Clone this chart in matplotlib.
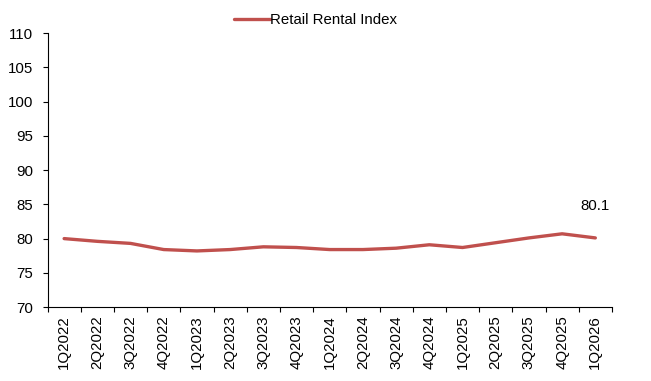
import matplotlib
matplotlib.use("Agg")
import matplotlib.pyplot as plt

plt.rcParams['font.family'] = ['Liberation Sans', 'DejaVu Sans']

quarters = ["1Q2022", "2Q2022", "3Q2022", "4Q2022", "1Q2023", "2Q2023", "3Q2023", "4Q2023",
            "1Q2024", "2Q2024", "3Q2024", "4Q2024", "1Q2025", "2Q2025", "3Q2025", "4Q2025", "1Q2026"]
index_values = [80.0, 79.6, 79.3, 78.4, 78.2, 78.4, 78.8, 78.7,
                78.4, 78.4, 78.6, 79.1, 78.7, 79.4, 80.1, 80.7, 80.1]
series_name = "Retail Rental Index"
y_ticks = [70, 75, 80, 85, 90, 95, 100, 105, 110]

fig = plt.figure(figsize=(6.51, 3.81), dpi=100)
ax = fig.add_axes([0.073, 0.194, 0.867, 0.719])

x = list(range(len(quarters)))
ax.plot(x, index_values, color='#C0504D', linewidth=2.4, label=series_name,
        solid_capstyle='round', solid_joinstyle='round')

ax.set_xlim(-0.5, len(quarters) - 0.5)
ax.set_ylim(70, 110)
ax.set_yticks(y_ticks)
ax.tick_params(axis='y', labelsize=10.8, length=3.5, width=0.8, direction='out', pad=7)

ax.set_xticks(x)
ax.set_xticklabels(quarters, rotation=90, fontsize=10.8)
ax.tick_params(axis='x', length=0, pad=6)
ax.set_xticks([i - 0.5 for i in range(len(quarters) + 1)], minor=True)
ax.tick_params(axis='x', which='minor', length=3.5, width=0.8, direction='out')

for s in ['top', 'right']:
    ax.spines[s].set_visible(False)
for s in ['left', 'bottom']:
    ax.spines[s].set_linewidth(0.8)

ax.annotate(f"{index_values[-1]:.1f}", xy=(x[-1], index_values[-1]), xytext=(0, 23),
            textcoords='offset points', ha='center', va='center', fontsize=10.8)

fig.legend(loc='upper center', bbox_to_anchor=(0.485, 1.0), frameon=False, fontsize=10.8,
           handlelength=2.4, handletextpad=0.0)

fig.savefig("out.png", dpi=100)
